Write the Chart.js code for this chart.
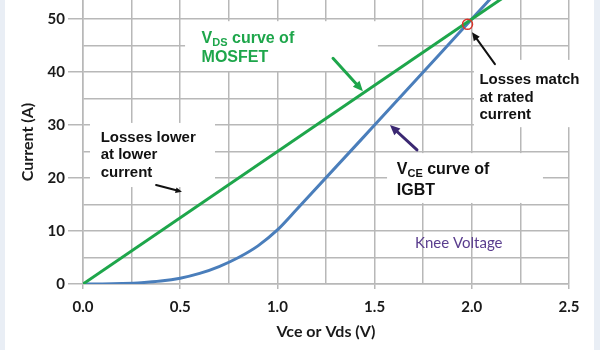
<!DOCTYPE html>
<html><head><meta charset="utf-8">
<script src="https://cdn.jsdelivr.net/npm/chart.js@4.4.0/dist/chart.umd.min.js"></script>
<style>html,body{margin:0;padding:0;background:#fff}canvas{display:block}</style>
</head><body>
<canvas id="c" width="600" height="350"></canvas>
<script>
// ---- data ----
const igbtV = [0, 0.1, 0.2, 0.3, 0.4, 0.5, 0.6, 0.7, 0.8, 0.9, 1.0, 1.1, 1.5, 2.0, 2.2];
const igbtI = [0, 0.02, 0.1, 0.25, 0.55, 1.1, 2.0, 3.3, 5.0, 7.2, 10.2, 14.1, 30, 50, 58];
const mosfetV = [0, 2.2];
const mosfetI = [0, 55];
const xTickLabels = [0, 0.5, 1.0, 1.5, 2.0, 2.5];
const yTickLabels = [0, 10, 20, 30, 40, 50];
const xTitle = 'Vce or Vds (V)';
const yTitle = 'Current (A)';

// ---- annotation layout (data units) ----
const GREEN = '#1ea64b', BLUE = '#4a7ebb', GRID = '#b8b8b8', PURPLE = '#3b2872';
const boxes = [
  [0.525, 49.6, 1.517, 40.2],
  [0.036, 30.4, 0.679, 18.3],
  [2.011, 42.3, 2.60, 29.6],
  [1.564, 24.7, 2.366, 15.3]
];
const labels = [
  {x:0.610, y:45.5, parts:[['V',''],['DS','sub'],[' curve of','']], color:GREEN, size:16},
  {x:0.610, y:41.9, parts:[['MOSFET','']], color:GREEN, size:16},
  {x:0.091, y:26.85, parts:[['Losses lower','']], color:'#111', size:15},
  {x:0.091, y:23.5, parts:[['at lower','']], color:'#111', size:15},
  {x:0.091, y:20.2, parts:[['current','']], color:'#111', size:15},
  {x:2.039, y:37.7, parts:[['Losses match','']], color:'#111', size:15},
  {x:2.039, y:34.4, parts:[['at rated','']], color:'#111', size:15},
  {x:2.039, y:31.1, parts:[['current','']], color:'#111', size:15},
  {x:1.614, y:20.7, parts:[['V',''],['CE','sub'],[' curve of','']], color:'#111', size:16},
  {x:1.614, y:16.8, parts:[['IGBT','']], color:'#111', size:16},
  {x:1.708, y:6.74, parts:[['Knee Voltage','']], color:'#5a3d8e', size:15, plain:true}
];
const arrows = [
  {from:[1.286, 42.6], to:[1.440, 36.4], color:GREEN, w:3, head:11},
  {from:[1.718, 25.3], to:[1.579, 30.0], color:PURPLE, w:3, head:11},
  {from:[2.119, 41.5], to:[2.001, 47.5], color:'#111', w:2, head:9},
  {from:[0.376, 18.7], to:[0.509, 17.4], color:'#111', w:2, head:7}
];
const matchPoint = [1.978, 49.0];

const isMajor = (list, v) => list.some(t => Math.abs(t - v) < 1e-6);

const annot = {
  id: 'annot',
  beforeDraw(chart) {
    const c = chart.ctx;
    c.save();
    c.fillStyle = '#fff'; c.fillRect(0, 0, chart.width, chart.height);
    c.fillStyle = '#e9eef5';
    c.fillRect(0, 0, 5, chart.height);
    c.fillRect(chart.width - 6, 0, 6, chart.height);
    c.restore();
  },
  beforeDatasetsDraw(chart) {
    const c = chart.ctx, xs = chart.scales.x, ys = chart.scales.y;
    c.save(); c.fillStyle = '#fff';
    boxes.forEach(b => {
      const x1 = xs.getPixelForValue(b[0]), y1 = ys.getPixelForValue(b[1]);
      const x2 = xs.getPixelForValue(b[2]), y2 = ys.getPixelForValue(b[3]);
      c.fillRect(x1, y1, x2 - x1, y2 - y1);
    });
    c.restore();
  },
  afterDatasetsDraw(chart) {
    const c = chart.ctx, xs = chart.scales.x, ys = chart.scales.y;
    c.save();
    c.textBaseline = 'alphabetic'; c.textAlign = 'left';
    labels.forEach(l => {
      let px = xs.getPixelForValue(l.x);
      const py = ys.getPixelForValue(l.y);
      c.fillStyle = l.color;
      l.parts.forEach(([t, kind]) => {
        const sz = kind === 'sub' ? Math.round(l.size * 0.7) : l.size;
        c.font = (l.plain ? '' : 'bold ') + sz + 'px ' + (l.plain ? 'Lato, "Open Sans", sans-serif' : '"Liberation Sans", Arial, sans-serif');
        c.fillText(t, px, py + (kind === 'sub' ? 3 : 0));
        px += c.measureText(t).width;
      });
    });
    arrows.forEach(a => {
      const x1 = xs.getPixelForValue(a.from[0]), y1 = ys.getPixelForValue(a.from[1]);
      const x2 = xs.getPixelForValue(a.to[0]), y2 = ys.getPixelForValue(a.to[1]);
      const ang = Math.atan2(y2 - y1, x2 - x1);
      const h = a.head;
      c.strokeStyle = a.color; c.fillStyle = a.color; c.lineWidth = a.w; c.lineCap = 'round';
      c.beginPath();
      c.moveTo(x1, y1);
      c.lineTo(x2 - Math.cos(ang) * h * 0.7, y2 - Math.sin(ang) * h * 0.7);
      c.stroke();
      c.beginPath();
      c.moveTo(x2, y2);
      c.lineTo(x2 - Math.cos(ang - 0.42) * h, y2 - Math.sin(ang - 0.42) * h);
      c.lineTo(x2 - Math.cos(ang + 0.42) * h, y2 - Math.sin(ang + 0.42) * h);
      c.closePath(); c.fill();
    });
    const cx = xs.getPixelForValue(matchPoint[0]), cy = ys.getPixelForValue(matchPoint[1]);
    c.strokeStyle = '#d9342b'; c.lineWidth = 1.5;
    c.beginPath(); c.arc(cx, cy, 5, 0, Math.PI * 2); c.stroke();
    c.restore();
  }
};

const tickFont = {family: 'Lato, "Open Sans", sans-serif', weight: 'bold', size: 15};
const titleFont = {family: 'Lato, "Open Sans", sans-serif', weight: 'bold', size: 16};

new Chart(document.getElementById('c'), {
  type: 'line',
  data: {
    datasets: [
      {label: 'MOSFET', data: mosfetV.map((v, i) => ({x: v, y: mosfetI[i]})),
       borderColor: GREEN, borderWidth: 3, pointRadius: 0, tension: 0, fill: false},
      {label: 'IGBT', data: igbtV.map((v, i) => ({x: v, y: igbtI[i]})),
       borderColor: BLUE, borderWidth: 3, pointRadius: 0, cubicInterpolationMode: 'monotone', fill: false}
    ]
  },
  options: {
    responsive: false, animation: false, devicePixelRatio: 1,
    layout: {padding: {left: 0, right: 31, top: 0, bottom: 0}},
    plugins: {legend: {display: false}, tooltip: {enabled: false}},
    scales: {
      x: {
        type: 'linear', min: 0, max: 2.5,
        ticks: {stepSize: 0.25, autoSkip: false, maxRotation: 0, padding: 9, color: '#1a1a1a', font: tickFont,
          callback: v => isMajor(xTickLabels, v) ? v.toFixed(1) : ''},
        grid: {color: GRID, lineWidth: 1.5, tickLength: 5,
          tickColor: ctx => (ctx.tick && isMajor(xTickLabels, ctx.tick.value)) ? GRID : 'rgba(0,0,0,0)'},
        border: {color: GRID, width: 1.5},
        title: {display: true, text: xTitle, color: '#1a1a1a', font: titleFont, padding: {top: 0, bottom: 9}},
        afterFit: s => { s.height = 66; s.paddingLeft = 0; s.paddingRight = 0; }
      },
      y: {
        type: 'linear', min: 0, max: 53.6,
        ticks: {stepSize: 5, includeBounds: false, padding: 3, color: '#1a1a1a', font: tickFont,
          callback: v => isMajor(yTickLabels, v) ? String(v) : ''},
        grid: {color: GRID, lineWidth: 1.5, tickLength: 15,
          tickColor: ctx => (ctx.tick && isMajor(yTickLabels, ctx.tick.value)) ? GRID : 'rgba(0,0,0,0)'},
        border: {color: GRID, width: 1.5},
        title: {display: true, text: yTitle, color: '#1a1a1a', font: titleFont, padding: {top: 18, bottom: 0}},
        afterFit: s => { s.width = 83; s.paddingTop = 0; s.paddingBottom = 0; }
      }
    }
  },
  plugins: [annot]
});
</script>
</body></html>
